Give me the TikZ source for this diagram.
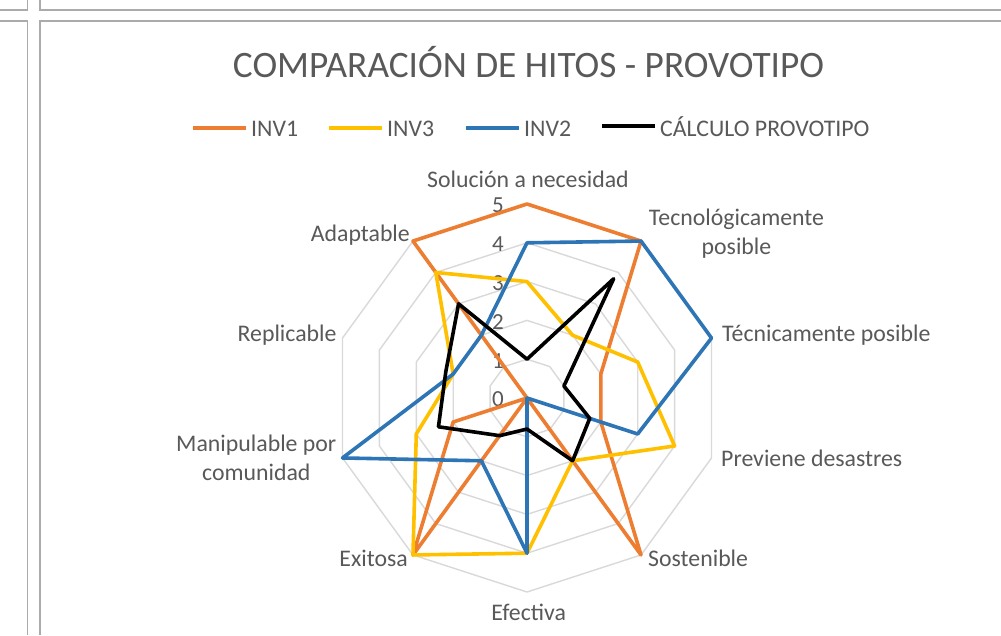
\documentclass[tikz,border=0pt]{standalone}
\usepackage{fontspec}
\setmainfont{Carlito}
\definecolor{orng}{HTML}{ED7D31}
\definecolor{yel}{HTML}{FFC000}
\definecolor{blu}{HTML}{2E75B6}
\definecolor{gridc}{HTML}{D9D9D9}
\definecolor{txt}{HTML}{595959}
\definecolor{framec}{HTML}{ABABAB}
\begin{document}
\begin{tikzpicture}[x=1pt,y=-1pt,
  series/.style={line width=3.6pt, line join=round, line cap=round},
  gridline/.style={draw=gridc, line width=1.4pt},
  framel/.style={draw=framec, line width=1.4pt},
  lbl/.style={text=txt, font=\fontsize{23.8}{28}\selectfont, inner sep=0pt},
  tick/.style={text=txt, font=\fontsize{23}{27}\selectfont, inner sep=0pt},
  titl/.style={text=txt, font=\fontsize{37.3}{42}\selectfont, inner sep=0pt},
  legl/.style={line width=3.8pt}]
\useasboundingbox[fill=white] (0,0) rectangle (1001,635);
% sheet frame lines
\draw[framel] (27.5,0) -- (27.5,10) -- (0,10);
\draw[framel] (40,0) -- (40,10) -- (1001,10);
\draw[framel] (0,21) -- (27.5,21) -- (27.5,635);
\draw[framel] (1001,21) -- (40,21) -- (40,635);
% title
\node[titl, anchor=base] (title) at (528.5,77) {COMPARACIÓN DE HITOS - PROVOTIPO};
% legend
\node[lbl, anchor=base west] (l1) at (251,136) {INV1};
\node[lbl, anchor=base west] (l2) at (387,136) {INV3};
\node[lbl, anchor=base west] (l3) at (524,136) {INV2};
\node[lbl, anchor=base west] (l4) at (660,136) {CÁLCULO PROVOTIPO};
\draw[legl, orng] ([xshift=-5pt]l1.west) -- ++(-53,0);
\draw[legl, yel] ([xshift=-5pt]l2.west) -- ++(-53,0);
\draw[legl, blu] ([xshift=-5pt]l3.west) -- ++(-53,0);
\draw[legl, black] ([xshift=-5pt]l4.west) -- ++(-53,0);
% grid rings
\foreach \r in {1,...,5}{
  \draw[gridline] (527,{398-38.8*\r}) \foreach \k in {1,...,9}{ -- ({527+38.8*\r*sin(36*\k)},{398-38.8*\r*cos(36*\k)}) } -- cycle;
}
% tick labels
\foreach \v in {0,...,5}{
  \node[tick, anchor=east] (t\v) at (504,{399.5-38.8*\v}) {\v};
}
% series coordinates
\foreach[count=\k from 0] \v in {5,5,2,2,5,0,5,2,0,5}{
  \coordinate (o\k) at ({527+38.8*\v*sin(36*\k)},{398-38.8*\v*cos(36*\k)});}
\foreach[count=\k from 0] \v in {3,2,3,4,2,4,5,3,2,4}{
  \coordinate (y\k) at ({527+38.8*\v*sin(36*\k)},{398-38.8*\v*cos(36*\k)});}
\foreach[count=\k from 0] \v in {4,5,5,3,0,4,2,5,2,2}{
  \coordinate (b\k) at ({527+38.8*\v*sin(36*\k)},{398-38.8*\v*cos(36*\k)});}
\foreach[count=\k from 0] \v in {1,3.8,1,1.7,2,0.8,1.2,2.4,2.2,3}{
  \coordinate (k\k) at ({527+38.8*\v*sin(36*\k)},{398-38.8*\v*cos(36*\k)});}
\draw[series, orng] (o0) -- (o1) -- (o2) -- (o3) -- (o4) -- (o5) -- (o6) -- (o7) -- (o8) -- (o9) -- cycle;
\draw[series, yel] (y0) -- (y1) -- (y2) -- (y3) -- (y4) -- (y5) -- (y6) -- (y7) -- (y8) -- (y9) -- cycle;
\draw[series, blu] (b0) -- (b1) -- (b2) -- (b3) -- (b4) -- (b5) -- (b6) -- (b7) -- (b8) -- (b9) -- cycle;
\draw[series, black] (k0) -- (k1) -- (k2) -- (k3) -- (k4) -- (k5) -- (k6) -- (k7) -- (k8) -- (k9) -- cycle;
% axis labels
\node[lbl, anchor=base] (a0) at (528,187) {Solución a necesidad};
\node[lbl, anchor=base] (a1) at (736.5,225.7) {Tecnológicamente};
\node[lbl, anchor=base] (a1b) at (736.5,254) {posible};
\node[lbl, anchor=base west] (a2) at (722,341.7) {Técnicamente posible};
\node[lbl, anchor=base west] (a3) at (721,466) {Previene desastres};
\node[lbl, anchor=base west] (a4) at (648,566.7) {Sostenible};
\node[lbl, anchor=base] (a5) at (528.7,620.7) {Efectiva};
\node[lbl, anchor=base east] (a6) at (408,566.7) {Exitosa};
\node[lbl, anchor=base] (a7) at (256.3,451.7) {Manipulable por};
\node[lbl, anchor=base] (a7b) at (256.3,480) {comunidad};
\node[lbl, anchor=base east] (a8) at (336.7,341.7) {Replicable};
\node[lbl, anchor=base east] (a9) at (410,241.7) {Adaptable};
\end{tikzpicture}
\end{document}
